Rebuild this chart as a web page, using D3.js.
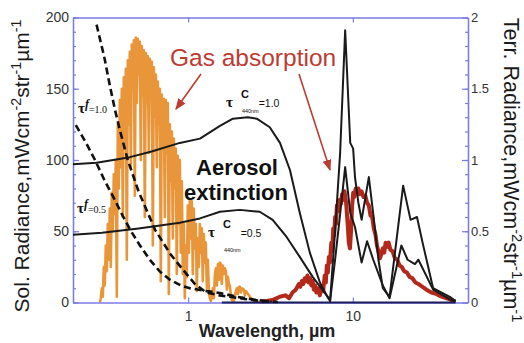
<!DOCTYPE html>
<html><head><meta charset="utf-8">
<script src="https://cdn.jsdelivr.net/npm/d3@7"></script>
<style>
html,body{margin:0;padding:0;background:#fff;}
svg{display:block;font-family:Arial,"Liberation Sans",Helvetica,sans-serif;}
</style></head><body>
<svg id="chart" width="524" height="343"></svg>
<script>
// ---- tick labels ----
const solTicks = [0, 50, 100, 150, 200];
const terrTicks = [0, 0.5, 1, 1.5, 2];
const wlTicks = [1, 10];

// ---- solar radiance spectrum [wavelength µm, mW cm-2 str-1 µm-1] ----
const solar = [
[0.2910,0],[0.2951,3],[0.2992,10],[0.3034,4],[0.3077,25],[0.3120,12],[0.3164,40],[0.3209,22],
[0.3254,55],[0.3300,30],[0.3346,66],[0.3393,25],[0.3441,77],[0.3489,50],[0.3538,90],[0.3588,62],
[0.3639,100],[0.3690,4],[0.3742,125],[0.3795,80],[0.3848,142],[0.3902,95],[0.3957,150],[0.4013,60],
[0.4069,158],[0.4126,115],[0.4185,164],[0.4244,30],[0.4303,170],[0.4364,125],[0.4425,176],[0.4487,95],
[0.4551,181],[0.4615,150],[0.4680,184],[0.4746,75],[0.4812,186],[0.4880,140],[0.4949,185],[0.5019,160],
[0.5089,183],[0.5161,100],[0.5233,180],[0.5307,145],[0.5382,177],[0.5458,60],[0.5534,175],[0.5612,140],
[0.5691,173],[0.5771,105],[0.5852,171],[0.5934,150],[0.6018,169],[0.6103,40],[0.6189,165],[0.6276,130],
[0.6364,160],[0.6454,95],[0.6545,155],[0.6637,125],[0.6730,150],[0.6825,15],[0.6921,146],[0.7019,110],
[0.7117,143],[0.7217,60],[0.7319,142],[0.7422,105],[0.7526,140],[0.7632,6],[0.7740,125],[0.7849,85],
[0.7959,120],[0.8071,45],[0.8185,115],[0.8300,80],[0.8417,108],[0.8535,20],[0.8655,103],[0.8777,55],
[0.8901,100],[0.9026,35],[0.9153,85],[0.9282,20],[0.9413,55],[0.9545,3],[0.9679,40],[0.9815,18],
[0.9954,68],[1.0094,35],[1.0236,72],[1.0380,45],[1.0526,71],[1.0674,20],[1.0825,66],[1.0977,38],
[1.1131,55],[1.1288,8],[1.1447,45],[1.1608,25],[1.1771,55],[1.194,35],[1.210,52],[1.227,15],
[1.245,48],[1.263,28],[1.280,42],[1.299,10],[1.317,30],[1.336,8],[1.355,3],[1.374,1],
[1.393,4],[1.413,10],[1.433,3],[1.454,20],[1.474,24],[1.495,12],[1.516,27],[1.538,16],
[1.557,28],[1.579,27],[1.601,13],[1.624,26],[1.647,20],[1.672,24],[1.695,22],[1.719,9],
[1.743,18],[1.768,13],[1.790,12],[1.815,6],[1.841,2],[1.867,0.5],[1.893,1],[1.922,4],
[1.948,8],[1.976,10],[2.004,6],[2.032,11],[2.060,11],[2.090,7],[2.120,10],[2.180,9],
[2.210,5],[2.240,8],[2.310,6],[2.370,4],[2.440,2.5],[2.510,1.2],[2.580,0.6],[2.720,0.4],
[2.920,0.3],[3.130,0]
];

// ---- terrestrial radiance spectrum [wavelength µm, mW cm-2 str-1 µm-1] ----
const terrestrial = [
[2.8,0.005],[3.0,0.01],[3.3,0.02],[3.6,0.04],[3.9,0.05],[4.1,0.03],[4.3,0.07],[4.5,0.09],
[4.7,0.13],[4.8,0.11],[4.9,0.15],[5.0,0.13],[5.1,0.17],[5.2,0.15],[5.3,0.19],[5.4,0.14],
[5.5,0.17],[5.6,0.12],[5.7,0.15],[5.8,0.09],[5.9,0.12],[6.0,0.07],[6.15,0.10],[6.3,0.05],
[6.45,0.11],[6.6,0.08],[6.75,0.19],[6.85,0.14],[6.95,0.26],[7.05,0.21],[7.15,0.32],[7.25,0.28],
[7.4,0.42],[7.5,0.36],[7.6,0.52],[7.7,0.47],[7.8,0.6],[7.9,0.55],[8.0,0.68],[8.15,0.64],
[8.3,0.72],[8.45,0.69],[8.6,0.76],[8.75,0.72],[8.9,0.78],[9.1,0.70],[9.3,0.55],[9.45,0.42],
[9.6,0.38],[9.75,0.50],[9.9,0.68],[10.05,0.77],[10.2,0.74],[10.4,0.80],[10.6,0.77],[10.8,0.80],
[11.0,0.76],[11.3,0.78],[11.6,0.74],[11.9,0.75],[12.2,0.70],[12.5,0.68],[12.8,0.61],[13.1,0.60],
[13.4,0.52],[13.7,0.48],[14.0,0.40],[14.3,0.36],[14.6,0.31],[14.9,0.34],[15.2,0.38],[15.5,0.35],
[15.8,0.42],[16.1,0.39],[16.5,0.42],[16.9,0.37],[17.4,0.36],[18.0,0.31],[18.6,0.30],[19.2,0.26],
[19.8,0.25],[20.5,0.22],[21.3,0.21],[22.1,0.18],[23.0,0.17],[24.0,0.14],[25.0,0.13],[26.5,0.11],
[28,0.09],[30,0.07],[32,0.06],[34,0.045],[36,0.035],[38,0.025],[40,0.015],[42,0.008]
];

// ---- fine-mode aerosol optical depth curves (solar scale) ----
const fine10 = [[0.278,195],[0.31,172],[0.335,152],[0.36,135],[0.385,121],[0.43,100],[0.5,78],[0.63,51],
  [0.78,34],[0.93,23],[1.1,13],[1.29,7],[1.55,5],[1.79,4],[2.2,2.5],[2.8,1],[3.5,0.3]];
const fine05 = [[0.208,124.5],[0.24,112],[0.272,100],[0.31,86],[0.359,72],[0.40,61],[0.445,51],[0.51,40],
  [0.585,30],[0.67,22],[0.774,16],[0.9,12],[1.024,10],[1.3,8],[1.557,6.7],[1.98,4],[2.5,2],[3.2,0.7]];

// ---- coarse-mode aerosol curves: solar part (left scale) and terrestrial part (right scale) ----
const coarse10Sol = [[0.2,97],[0.278,98],[0.443,102],[0.6,106],[0.89,112],[1.18,115],[1.56,124],[1.87,129],
  [2.3,130],[2.61,129],[3.13,123],[3.61,112],[4.15,93],[4.76,63],[5.48,35],[6.31,14],[7.0,4],[7.27,1]];
const coarse10Terr = [[7.27,0.01],[7.8,0.5],[8.37,1.05],[8.98,1.91],[9.64,1.12],[10.04,1.08],[10.3,0.88],
  [10.8,0.7],[11.3,0.58],[12.5,0.88],[13.3,0.62],[14.3,0.3],[15.2,0.1],[16.7,0.04],[20.2,0.82],[22.4,0.58],
  [24.5,0.6],[26.5,0.42],[30.7,0.1],[38.8,0.04],[42,0.01]];
const coarse05Sol = [[0.2,47.5],[0.3,49],[0.5,52],[0.89,56],[1.18,59],[1.56,63.7],[2.06,65],[2.72,63.7],
  [3.26,58],[3.96,46],[4.76,32],[5.7,18],[6.93,5],[7.27,2]];
const coarse05Terr = [[7.27,0.01],[7.8,0.3],[8.37,0.62],[8.98,0.95],[9.64,0.63],[10.3,0.53],[11.3,0.28],
  [12.2,0.43],[13.3,0.3],[15.2,0.12],[16.7,0.03],[19.7,0.40],[21.5,0.3],[23.8,0.27],[25,0.3],[30.7,0.09],
  [39,0.02],[42,0.005]];

// zero-radiance baseline of the long-wave region
const baseline = [[1.6,0],[42,0]];

// ---- layout ----
const L = 73, R = 468, T = 17.5, B = 302.5;
const axisBlue = "#7b7be6";

const svg = d3.select("#chart");
const x = d3.scaleLog().domain([0.2, 50]).range([L, R]);
const yS = d3.scaleLinear().domain([0, 200]).range([B, T]);
const yT = d3.scaleLinear().domain([0, 2]).range([B, T]);

const lineS = d3.line().x(d => x(d[0])).y(d => yS(d[1]));
const lineT = d3.line().x(d => x(d[0])).y(d => yT(d[1]));
const linePx = d3.line();

// spectra
svg.append("path").attr("d", lineS(solar))
  .attr("fill", "none").attr("stroke", "#e9953a").attr("stroke-width", 2.6)
  .attr("stroke-linejoin", "round");
svg.append("path").attr("d", lineT(terrestrial))
  .attr("fill", "none").attr("stroke", "#b3281b").attr("stroke-width", 4)
  .attr("stroke-linejoin", "round");

// axes
function styleAxis(g) {
  g.select(".domain").attr("stroke", axisBlue).attr("stroke-width", 1.3);
  g.selectAll(".tick line").attr("stroke", axisBlue).attr("stroke-width", 1.2);
  g.selectAll(".tick text").attr("fill", "#333").attr("font-family", "Arial, 'Liberation Sans', sans-serif");
}
const gl = svg.append("g").attr("transform", `translate(${L},0)`)
  .call(d3.axisLeft(yS).tickValues(solTicks).tickSize(-6).tickSizeOuter(0).tickPadding(4));
styleAxis(gl); gl.selectAll(".tick text").attr("font-size", 14);
const glm = svg.append("g").attr("transform", `translate(${L},0)`)
  .call(d3.axisLeft(yS).tickValues(d3.range(0, 201, 10)).tickSize(-3).tickSizeOuter(0).tickFormat(""));
styleAxis(glm);

const gr = svg.append("g").attr("transform", `translate(${R},0)`)
  .call(d3.axisRight(yT).tickValues(terrTicks).tickSize(-6).tickSizeOuter(0).tickPadding(3)
    .tickFormat(d => d3.format("")(d)));
styleAxis(gr); gr.selectAll(".tick text").attr("font-size", 13);
const grm = svg.append("g").attr("transform", `translate(${R},0)`)
  .call(d3.axisRight(yT).tickValues(d3.range(0, 21).map(i => i / 10)).tickSize(-3).tickSizeOuter(0).tickFormat(""));
styleAxis(grm);

const gb = svg.append("g").attr("transform", `translate(0,${B})`)
  .call(d3.axisBottom(x).tickValues(wlTicks).tickSize(-5).tickSizeOuter(0).tickPadding(9)
    .tickFormat(d3.format("d")));
styleAxis(gb); gb.selectAll(".tick text").attr("font-size", 14);
const gt = svg.append("g").attr("transform", `translate(0,${T})`)
  .call(d3.axisTop(x).tickValues(wlTicks).tickSize(-5).tickSizeOuter(0).tickFormat(""));
styleAxis(gt);

// long-wave zero line
svg.append("path").attr("d", lineS(baseline))
  .attr("stroke", "#1c1f5c").attr("stroke-width", 2).attr("fill", "none");

// fine-mode dashed curves
[fine10, fine05].forEach(c => {
  svg.append("path").attr("d", lineS(c)).attr("fill", "none")
    .attr("stroke", "#111").attr("stroke-width", 2.6).attr("stroke-dasharray", "7,4");
});

// coarse-mode solid curves (solar part on left scale, terrestrial part on right scale)
[[coarse10Sol, coarse10Terr], [coarse05Sol, coarse05Terr]].forEach(([s, t]) => {
  const pts = s.map(d => [x(d[0]), yS(d[1])]).concat(t.map(d => [x(d[0]), yT(d[1])]));
  svg.append("path").attr("d", linePx(pts)).attr("fill", "none")
    .attr("stroke", "#1a1a1a").attr("stroke-width", 2).attr("stroke-linejoin", "round");
});

// ---- text helpers ----
function rich(g, parts, size) {
  const t = g.append("text").attr("font-size", size);
  let shift = 0;
  parts.forEach(p => {
    const ts = t.append("tspan").text(p[0]);
    const want = p[1] ? -size * 0.38 : 0;
    if (want !== shift) { ts.attr("dy", want - shift); shift = want; }
    if (p[1]) ts.attr("font-size", size * 0.68);
  });
  return t;
}

// axis titles
rich(svg.append("g").attr("transform", "translate(29,166) rotate(-90)"),
  [["Sol. Radiance,mWcm"], ["-2", 1], ["str"], ["-1", 1], ["µm"], ["-1", 1]], 21)
  .attr("text-anchor", "middle").attr("fill", "#1a1a1a");
rich(svg.append("g").attr("transform", "translate(504,170) rotate(90)"),
  [["Terr. Radiance,mWcm"], ["-2", 1], ["str"], ["-1", 1], ["µm"], ["-1", 1]], 21.5)
  .attr("text-anchor", "middle").attr("fill", "#1a1a1a");
svg.append("text").attr("x", 267).attr("y", 337).attr("text-anchor", "middle")
  .attr("font-size", 18).attr("font-weight", "bold").attr("fill", "#222").text("Wavelength, µm");

// annotations
const red = "#bd3b30";
svg.append("text").attr("x", 170).attr("y", 66).attr("font-size", 24.5).attr("fill", red).text("Gas absorption");
svg.append("text").attr("x", 237).attr("y", 175).attr("text-anchor", "middle")
  .attr("font-size", 22).attr("font-weight", "bold").attr("fill", "#111").text("Aerosol");
svg.append("text").attr("x", 236).attr("y", 200).attr("text-anchor", "middle")
  .attr("font-size", 22).attr("font-weight", "bold").attr("fill", "#111").text("extinction");

const defs = svg.append("defs");
defs.append("marker").attr("id", "ah").attr("viewBox", "0 0 10 10").attr("refX", 9).attr("refY", 5)
  .attr("markerWidth", 7).attr("markerHeight", 7).attr("orient", "auto-start-reverse")
  .append("path").attr("d", "M0,1 L10,5 L0,9 z").attr("fill", red);
[[[201, 74], [176, 109]], [[299, 74], [330, 170]]].forEach(seg => {
  svg.append("path").attr("d", linePx(seg)).attr("stroke", red).attr("stroke-width", 1.6)
    .attr("fill", "none").attr("marker-end", "url(#ah)");
});

// optical depth labels
function tauF(x0, y0, val) {
  const t = svg.append("text").attr("x", x0).attr("y", y0).attr("fill", "#111")
    .attr("font-family", "'Liberation Serif','Times New Roman',serif");
  t.append("tspan").attr("font-size", 15).attr("font-weight", "bold").text("τ");
  t.append("tspan").attr("font-size", 12).attr("font-style", "italic").attr("font-weight", "bold").attr("dy", -5).text("f");
  t.append("tspan").attr("font-size", 10).attr("dy", 5).text("=" + val);
}
tauF(78, 113, "1.0");
tauF(77, 213, "0.5");

function tauC(x0, y0, val, subDy) {
  const t = svg.append("text").attr("x", x0).attr("y", y0).attr("fill", "#111");
  t.append("tspan").attr("font-size", 15).attr("font-weight", "bold")
    .attr("font-family", "'Liberation Serif','Times New Roman',serif").text("τ");
  t.append("tspan").attr("font-size", 11).attr("font-weight", "bold").attr("dx", 8).attr("dy", -9).text("C");
  t.append("tspan").attr("font-size", 5.5).attr("dx", -7).attr("dy", 9 + subDy).text("440nm");
  t.append("tspan").attr("font-size", 10.5).attr("dy", -subDy).text("=" + val);
}
tauC(226, 107, "1.0", 6);
tauC(208, 237, "0.5", 15);
</script>
</body></html>
